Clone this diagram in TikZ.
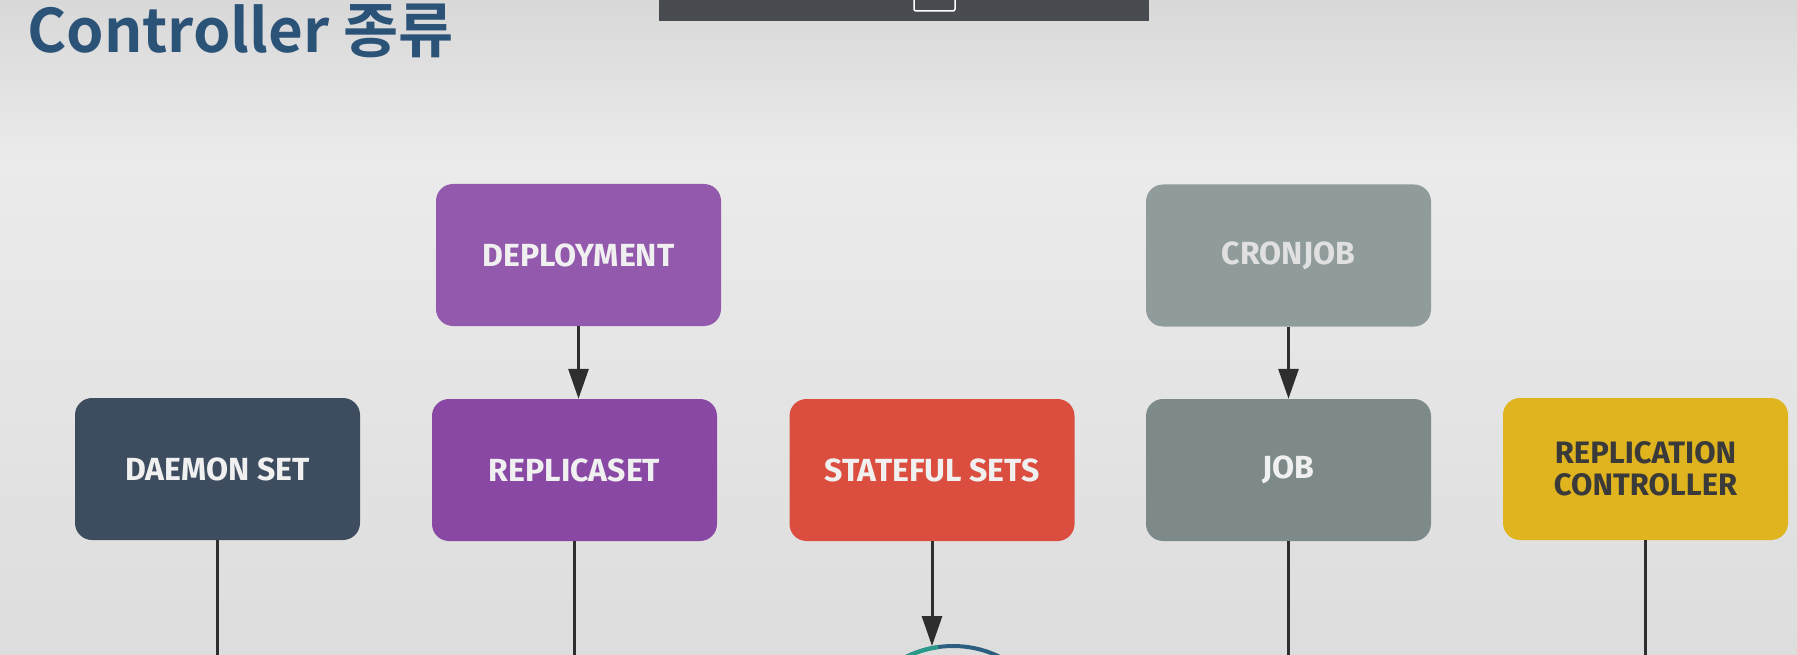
\documentclass[tikz,border=0pt]{standalone}
\usepackage{fontspec}
\setmainfont{Fira Sans}
\newfontfamily\titlefont{Noto Sans CJK KR}[BoldFont={* Bold}]
\usetikzlibrary{arrows.meta}
\definecolor{bgtop}{HTML}{D8D8D8}
\definecolor{bgmid}{HTML}{EBEBEB}
\definecolor{bgbot}{HTML}{DDDDDD}
\definecolor{titleblue}{HTML}{2B5277}
\definecolor{barcol}{HTML}{484B50}
\definecolor{depcol}{HTML}{9359AC}
\definecolor{rscol}{HTML}{8A48A5}
\definecolor{dscol}{HTML}{3D4D5F}
\definecolor{sscol}{HTML}{DB4D3F}
\definecolor{croncol}{HTML}{909C9C}
\definecolor{jobcol}{HTML}{7E8A8A}
\definecolor{rccol}{HTML}{E0B41E}
\definecolor{rctext}{HTML}{3A3A3A}
\definecolor{linecol}{HTML}{2E2E2E}
\definecolor{ringcol}{HTML}{2C5F7F}
\definecolor{tealcol}{HTML}{2A9A8A}
\begin{document}
\begin{tikzpicture}[x=1pt,y=-1pt,
  ctrlbox/.style={rectangle, rounded corners=17pt, minimum width=285pt, minimum height=142pt,
    inner sep=0pt, align=center, font=\fontsize{32}{33}\selectfont\bfseries, text=white!94!black},
  conn/.style={draw=linecol, line width=3pt},
  arr/.style={conn, -{Triangle[length=30pt,width=20pt]}}]
\useasboundingbox (0,0) rectangle (1797,655);
\shade[top color=bgtop, bottom color=bgmid] (0,0) rectangle (1797,160);
\shade[top color=bgmid, bottom color=bgbot] (0,159.5) rectangle (1797,655);
% top bar
\fill[barcol] (659,0) rectangle (1149,21);
\draw[white, line width=1.5pt, rounded corners=2pt] (914,-3) rectangle (955,11);
% title
\node[anchor=base west, inner sep=0pt, text=titleblue, font=\titlefont\bfseries\fontsize{60}{62}\selectfont] (title) at (27,53) {Controller 종류};
% boxes
\node[ctrlbox, fill=depcol] (dep) at (578.5,255) {DEPLOYMENT};
\node[ctrlbox, fill=croncol, text=white!88!black] (cron) at (1288.5,255.5) {CRONJOB};
\node[ctrlbox, fill=dscol] (ds) at (217.5,469) {DAEMON SET};
\node[ctrlbox, fill=rscol] (rs) at (574.5,470) {REPLICASET};
\node[ctrlbox, fill=sscol] (ss) at (932,470) {STATEFUL SETS};
\node[ctrlbox, fill=jobcol] (job) at (1288.5,470) {JOB};
\node[ctrlbox, fill=rccol, text=rctext, font=\fontsize{31}{32}\selectfont\bfseries] (rc) at (1645.5,469) {REPLICATION\\CONTROLLER};
% bottom coordinates
\coordinate (dsb) at (217,660);
\coordinate (rsb) at (574,660);
\coordinate (jobb) at (1288,660);
\coordinate (rcb) at (1645,660);
\coordinate (ssb) at (932,646);
% bottom ring
\begin{scope}
\clip (0,0) rectangle (1797,655);
\draw[ringcol, line width=4pt] (953,752) circle (106);
\draw[tealcol, line width=4pt] (953,752) ++(-98:106) arc (-98:-120:106);
\end{scope}
% connectors
\draw[arr] (dep.south) -- (dep.south |- rs.north);
\draw[arr] (cron.south) -- (job.north);
\draw[arr] (ss.south) -- (ssb);
\draw[conn] (ds.south -| dsb) -- (dsb);
\draw[conn] (rs.south -| rsb) -- (rsb);
\draw[conn] (job.south -| jobb) -- (jobb);
\draw[conn] (rc.south -| rcb) -- (rcb);
\end{tikzpicture}
\end{document}
